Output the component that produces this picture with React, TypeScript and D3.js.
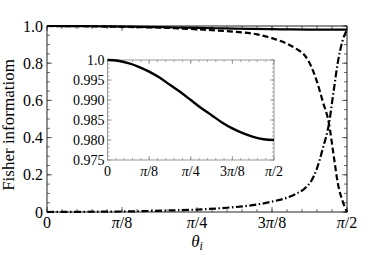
import * as d3 from "d3";

const W = 374;
const H = 255;

// theta grid (rad) for the solid curve
const thetaSolid = [0, 0.0982, 0.1963, 0.2945, 0.3927, 0.4909, 0.589, 0.6872, 0.7854, 0.8836, 0.9817, 1.0799, 1.1781, 1.2763, 1.3744, 1.4726, 1.5708];
const solidVals = [1.0, 0.9998, 0.9992, 0.9983, 0.9971, 0.9956, 0.9938, 0.992, 0.99, 0.988, 0.9862, 0.9844, 0.9829, 0.9817, 0.9808, 0.9802, 0.98];

// theta grid (rad) for the dashed / dot-dashed curves
const thetaMain = [0, 0.1571, 0.3142, 0.4712, 0.6283, 0.7854, 0.9425, 1.0996, 1.1781, 1.2566, 1.3038, 1.3509, 1.3823, 1.4137, 1.4451, 1.4765, 1.5001, 1.5237, 1.5472, 1.5708];
const dashedVals = [1.0, 0.999, 0.997, 0.994, 0.99, 0.982, 0.972, 0.955, 0.935, 0.905, 0.878, 0.84, 0.785, 0.7, 0.59, 0.475, 0.31, 0.15, 0.06, 0.0];
const dotDashVals = [0.0, 0.001, 0.002, 0.004, 0.008, 0.013, 0.023, 0.04, 0.056, 0.077, 0.098, 0.128, 0.165, 0.235, 0.345, 0.475, 0.645, 0.81, 0.92, 0.98];

const xTickLabels = ["0", "π/8", "π/4", "3π/8", "π/2"];
const yTicksMain = [0, 0.2, 0.4, 0.6, 0.8, 1.0];
const yTickLabelsMain = ["0", "0.2", "0.4", "0.6", "0.8", "1.0"];
const yTicksInset = [0.975, 0.98, 0.985, 0.99, 0.995, 1.0];
const yTickLabelsInset = ["0.975", "0.980", "0.985", "0.990", "0.995", "1.0"];

const FONT = "'Liberation Serif', 'Times New Roman', 'DejaVu Serif', serif";
const HALF_PI = Math.PI / 2;

function piLabel(s: string) {
  // italic pi inside the tick label
  const parts = s.split("π");
  if (parts.length === 1) return s;
  return (
    <>
      {parts[0]}
      <tspan fontStyle="italic">π</tspan>
      {parts[1]}
    </>
  );
}

type Box = { x0: number; x1: number; y0: number; y1: number };

function Frame({
  box, x, y, xMinor, xMajor, yMinor, yMajor, majLen, minLen, stroke, tickStroke,
}: {
  box: Box;
  x: d3.ScaleLinear<number, number>;
  y: d3.ScaleLinear<number, number>;
  xMinor: number[]; xMajor: number[]; yMinor: number[]; yMajor: number[];
  majLen: number; minLen: number; stroke: string; tickStroke: string;
}) {
  return (
    <g>
      {xMinor.map((t, i) => (
        <g key={"xm" + i} stroke={tickStroke} strokeWidth={0.8}>
          <line x1={x(t)} x2={x(t)} y1={box.y1} y2={box.y1 - minLen} />
          <line x1={x(t)} x2={x(t)} y1={box.y0} y2={box.y0 + minLen} />
        </g>
      ))}
      {xMajor.map((t, i) => (
        <g key={"xM" + i} stroke={tickStroke} strokeWidth={0.8}>
          <line x1={x(t)} x2={x(t)} y1={box.y1} y2={box.y1 - majLen} />
          <line x1={x(t)} x2={x(t)} y1={box.y0} y2={box.y0 + majLen} />
        </g>
      ))}
      {yMinor.map((t, i) => (
        <g key={"ym" + i} stroke={tickStroke} strokeWidth={0.8}>
          <line x1={box.x0} x2={box.x0 + minLen} y1={y(t)} y2={y(t)} />
          <line x1={box.x1} x2={box.x1 - minLen} y1={y(t)} y2={y(t)} />
        </g>
      ))}
      {yMajor.map((t, i) => (
        <g key={"yM" + i} stroke={tickStroke} strokeWidth={0.8}>
          <line x1={box.x0} x2={box.x0 + majLen} y1={y(t)} y2={y(t)} />
          <line x1={box.x1} x2={box.x1 - majLen} y1={y(t)} y2={y(t)} />
        </g>
      ))}
      <rect
        x={box.x0}
        y={box.y0}
        width={box.x1 - box.x0}
        height={box.y1 - box.y0}
        fill="none"
        stroke={stroke}
        strokeWidth={1}
      />
    </g>
  );
}

export default function App() {
  const main: Box = { x0: 47, x1: 347, y0: 26, y1: 212 };
  const inset: Box = { x0: 107.5, x1: 274, y0: 60, y1: 160 };

  const x = d3.scaleLinear().domain([0, HALF_PI]).range([main.x0, main.x1]);
  const y = d3.scaleLinear().domain([0, 1]).range([main.y1, main.y0]);
  const xi = d3.scaleLinear().domain([0, HALF_PI]).range([inset.x0, inset.x1]);
  const yi = d3.scaleLinear().domain([0.975, 1.0]).range([inset.y1, inset.y0]);

  const xMajor = d3.range(5).map((k) => (k * Math.PI) / 8);
  const xMinor = d3.range(21).map((k) => (k * Math.PI) / 40);
  const yMinorMain = d3.range(21).map((k) => k * 0.05);
  const yMinorInset = d3.range(26).map((k) => 0.975 + k * 0.001);

  const mainLine = (vals: number[], th: number[]) =>
    d3
      .line<number>()
      .x((_, i) => x(th[i]))
      .y((d) => y(d))
      .curve(d3.curveMonotoneX)(vals) ?? "";

  // the inset curve is smooth, catmull-rom irons out the reading noise
  const insetLine =
    d3
      .line<number>()
      .x((_, i) => xi(thetaSolid[i]))
      .y((d) => yi(d))
      .curve(d3.curveCatmullRom.alpha(0.5))(solidVals) ?? "";

  return (
    <svg
      width={W}
      height={H}
      style={{ position: "absolute", left: 0, top: 0, background: "#fff", fontFamily: FONT }}
    >
      <Frame
        box={main}
        x={x}
        y={y}
        xMinor={xMinor}
        xMajor={xMajor}
        yMinor={yMinorMain}
        yMajor={yTicksMain}
        majLen={5}
        minLen={3}
        stroke="#222"
        tickStroke="#444"
      />

      {/* main curves */}
      <path d={mainLine(dotDashVals, thetaMain)} fill="none" stroke="#000" strokeWidth={2.2} strokeDasharray="7 2.5 1.5 2.5" />
      <path d={mainLine(dashedVals, thetaMain)} fill="none" stroke="#000" strokeWidth={2.2} strokeDasharray="6 3" />
      <path d={mainLine(solidVals, thetaSolid)} fill="none" stroke="#000" strokeWidth={2.2} />

      {/* main tick labels */}
      {yTicksMain.map((t, i) => (
        <text key={"yl" + i} x={main.x0 - 4} y={y(t)} dy="0.35em" textAnchor="end" fontSize={16}>
          {yTickLabelsMain[i]}
        </text>
      ))}
      {xMajor.map((t, i) => (
        <text key={"xl" + i} x={x(t)} y={main.y1 + 16} textAnchor="middle" fontSize={16}>
          {piLabel(xTickLabels[i])}
        </text>
      ))}

      {/* axis titles */}
      <text x={(main.x0 + main.x1) / 2} y={247} textAnchor="middle" fontSize={17} fontStyle="italic">
        θ<tspan fontSize={12} dy={3}>i</tspan>
      </text>
      <text
        transform={`translate(14,${(main.y0 + main.y1) / 2 + 6}) rotate(-90)`}
        textAnchor="middle"
        fontSize={17}
      >
        Fisher informatiom
      </text>

      {/* inset */}
      <rect x={inset.x0} y={inset.y0} width={inset.x1 - inset.x0} height={inset.y1 - inset.y0} fill="#fff" />
      <Frame
        box={inset}
        x={xi}
        y={yi}
        xMinor={xMinor}
        xMajor={xMajor}
        yMinor={yMinorInset}
        yMajor={yTicksInset}
        majLen={4}
        minLen={2}
        stroke="#999"
        tickStroke="#888"
      />
      <path d={insetLine} fill="none" stroke="#000" strokeWidth={2.4} />
      {yTicksInset.map((t, i) => (
        <text key={"iyl" + i} x={inset.x0 - 3} y={yi(t)} dy="0.35em" textAnchor="end" fontSize={14}>
          {yTickLabelsInset[i]}
        </text>
      ))}
      {xMajor.map((t, i) => (
        <text key={"ixl" + i} x={xi(t)} y={inset.y1 + 16} textAnchor="middle" fontSize={14}>
          {piLabel(xTickLabels[i])}
        </text>
      ))}
    </svg>
  );
}
